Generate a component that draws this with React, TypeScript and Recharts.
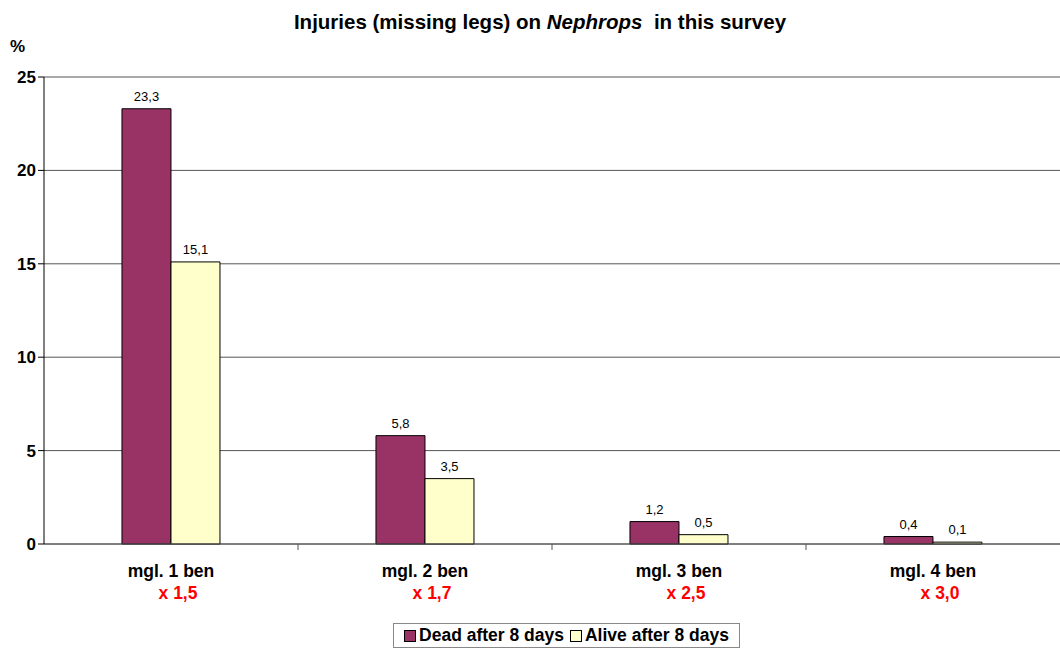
import React from "react"
import { BarChart, Bar, XAxis, YAxis, CartesianGrid, LabelList } from "recharts"

const categories = ["mgl. 1 ben", "mgl. 2 ben", "mgl. 3 ben", "mgl. 4 ben"]
const factors = ["x 1,5", "x 1,7", "x 2,5", "x 3,0"]
const dead = [23.3, 5.8, 1.2, 0.4]
const alive = [15.1, 3.5, 0.5, 0.1]
const yTicks = [0, 5, 10, 15, 20, 25]

const W = 1060
const H = 648
const M = { top: 77, right: 0, left: 0, bottom: 24 }
const Y_W = 44
const BAND = (W - M.left - M.right - Y_W) / categories.length

const FONT = "'Liberation Sans', Arial, sans-serif"

const data = categories.map((name, i) => ({
  name,
  factor: factors[i],
  dead: dead[i],
  alive: alive[i],
}))

const fmt = (v: any) => String(Number(v).toFixed(1)).replace(".", ",")

const CategoryTick = (props: any) => {
  const { x, y, payload, index } = props
  const row = data[index] || data.find((d) => d.name === payload.value)
  return (
    <g>
      {index < categories.length - 1 && (
        <line x1={x + BAND / 2} x2={x + BAND / 2} y1={y - 8} y2={y - 2} stroke="#555" />
      )}
      <text x={x} y={y + 25} textAnchor="middle" fontFamily={FONT} fontSize={17.5} fontWeight="bold" fill="#000">
        {payload.value}
      </text>
      <text x={x + 7} y={y + 47} textAnchor="middle" fontFamily={FONT} fontSize={17.5} fontWeight="bold" fill="#ff0000">
        {row ? row.factor : ""}
      </text>
    </g>
  )
}

export default function App() {
  return (
    <div style={{ position: "absolute", left: 0, top: 0, width: W, height: H, background: "#fff", fontFamily: FONT }}>
      <div
        style={{
          position: "absolute",
          left: 10,
          top: 10,
          width: W,
          textAlign: "center",
          fontSize: 20.5,
          fontWeight: "bold",
          color: "#000",
          whiteSpace: "pre",
        }}
      >
        Injuries (missing legs) on <i>Nephrops</i>  in this survey
      </div>
      <div style={{ position: "absolute", left: 10, top: 37, fontSize: 17, fontWeight: "bold" }}>%</div>

      <BarChart width={W} height={H} data={data} margin={M} barGap={0} barCategoryGap="30.7%">
        <CartesianGrid vertical={false} stroke="#555" />
        <XAxis
          dataKey="name"
          tick={<CategoryTick />}
          tickLine={false}
          axisLine={{ stroke: "#555" }}
          interval={0}
          height={80}
        />
        <YAxis
          domain={[0, 25]}
          ticks={yTicks}
          width={Y_W}
          tickSize={6}
          tickLine={{ stroke: "#000" }}
          axisLine={{ stroke: "#000" }}
          tick={{ fontFamily: FONT, fontSize: 17, fontWeight: "bold", fill: "#000" }}
        />
        <Bar dataKey="dead" name="Dead after 8 days" fill="#993366" stroke="#000" strokeWidth={1} isAnimationActive={false}>
          <LabelList dataKey="dead" position="top" offset={8} formatter={fmt} style={{ fontFamily: FONT, fontSize: 13, fill: "#000" }} />
        </Bar>
        <Bar dataKey="alive" name="Alive after 8 days" fill="#ffffcc" stroke="#000" strokeWidth={1} isAnimationActive={false}>
          <LabelList dataKey="alive" position="top" offset={8} formatter={fmt} style={{ fontFamily: FONT, fontSize: 13, fill: "#000" }} />
        </Bar>
      </BarChart>

      <div
        style={{
          position: "absolute",
          left: 393,
          top: 623,
          width: 347,
          height: 25,
          border: "1px solid #888",
          boxSizing: "border-box",
          display: "flex",
          alignItems: "center",
          justifyContent: "center",
          gap: 6,
          fontSize: 17.5,
          fontWeight: "bold",
          background: "#fff",
          whiteSpace: "nowrap",
        }}
      >
        <span style={{ display: "flex", alignItems: "center", gap: 3 }}>
          <span style={{ width: 10, height: 10, background: "#993366", border: "1px solid #000" }} />
          Dead after 8 days
        </span>
        <span style={{ display: "flex", alignItems: "center", gap: 3 }}>
          <span style={{ width: 10, height: 10, background: "#ffffcc", border: "1px solid #000" }} />
          Alive after 8 days
        </span>
      </div>
    </div>
  )
}
